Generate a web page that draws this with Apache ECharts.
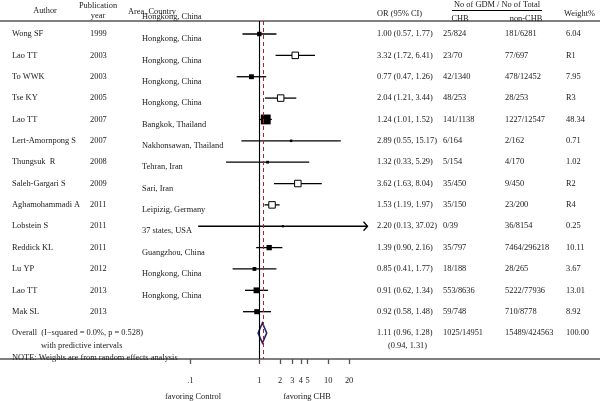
<!DOCTYPE html>
<html><head><meta charset="utf-8">
<script src="https://cdn.jsdelivr.net/npm/echarts@6/dist/echarts.min.js"></script>
<style>html,body{margin:0;padding:0;background:#fff}#c{width:600px;height:401px}</style>
</head><body><div id="c"></div>
<script>
const authors = ['Wong SF','Lao TT','To WWK','Tse KY','Lao TT','Lert-Amornpong S','Thungsuk  R','Saleh-Gargari S','Aghamohammadi A','Lobstein S','Reddick KL','Lu YP','Lao TT','Mak SL'];
const years = ['1999','2003','2003','2005','2007','2007','2008','2009','2011','2011','2011','2012','2013','2013'];
const areas = ['Hongkong, China','Hongkong, China','Hongkong, China','Hongkong, China','Bangkok, Thailand','Nakhonsawan, Thailand','Tehran, Iran','Sari, Iran','Leipizig, Germany','37 states, USA','Guangzhou, China','Hongkong, China','Hongkong, China',''];
const orValues = [1.00,3.32,0.77,2.04,1.24,2.89,1.32,3.62,1.53,2.20,1.39,0.85,0.91,0.92];
const ciLower = [0.57,1.72,0.47,1.21,1.01,0.55,0.33,1.63,1.19,0.13,0.90,0.41,0.62,0.58];
const ciUpper = [1.77,6.41,1.26,3.44,1.52,15.17,5.29,8.04,1.97,37.02,2.16,1.77,1.34,1.48];
const chbCounts = ['25/824','23/70','42/1340','48/253','141/1138','6/164','5/154','35/450','35/150','0/39','35/797','18/188','553/8636','59/748'];
const nonChbCounts = ['181/6281','77/697','478/12452','28/253','1227/12547','2/162','4/170','9/450','23/200','36/8154','7464/296218','28/265','5222/77936','710/8778'];
const weights = ['6.04','R1','7.95','R3','48.34','0.71','1.02','R2','R4','0.25','10.11','3.67','13.01','8.92'];
const overallOR = 1.11, overallLower = 0.96, overallUpper = 1.28;
const predLower = 0.94, predUpper = 1.31;
const overallChb = '1025/14951', overallNonChb = '15489/424563', overallWeight = '100.00';
const xTicks = [0.1, 1, 2, 3, 4, 5, 10, 20];
const arrowBeyond = 20;

const FONT = '8.4px "Liberation Serif", "DejaVu Serif", serif';
const TXT = '#1a1a1a';
const lg = Math.log10;
const f2 = v => v.toFixed(2);

function txt(x, y, s, align) {
  return {type: 'text', x: x, y: y, style: {text: s, font: FONT, fill: TXT, align: align || 'left', verticalAlign: 'middle'}};
}

const studyData = orValues.map((v, i) => [lg(ciLower[i]), lg(ciUpper[i]), lg(v), i]);

function renderStudy(params, api) {
  const i = api.value(3);
  const y = api.coord([0, i])[1];
  const xl = api.coord([api.value(0), i])[0];
  const xh = api.coord([api.value(1), i])[0];
  const xc = api.coord([api.value(2), i])[0];
  const idx = params.dataIndex;
  const ch = [{type: 'line', shape: {x1: xl, y1: y, x2: xh, y2: y}, style: {stroke: '#000', lineWidth: 1.3}}];
  if (ciUpper[idx] > arrowBeyond) {
    ch.push({type: 'polyline', shape: {points: [[xh - 4, y - 4.5], [xh, y], [xh - 4, y + 4.5]]}, style: {stroke: '#000', fill: null, lineWidth: 1.3}});
  }
  const w = parseFloat(weights[idx]);
  if (isNaN(w)) {
    const s = 6.5;
    ch.push({type: 'rect', shape: {x: xc - s / 2, y: y - s / 2, width: s, height: s}, style: {fill: '#fff', stroke: '#000', lineWidth: 1}});
  } else {
    const s = Math.max(2.2, 1.2 * Math.sqrt(w) + 1.5);
    ch.push({type: 'rect', shape: {x: xc - s / 2, y: y - s / 2, width: s, height: s}, style: {fill: '#000'}});
  }
  ch.push(txt(12, y, authors[idx]));
  ch.push(txt(90, y, years[idx]));
  if (areas[idx]) ch.push(txt(142, y + 5, areas[idx]));
  ch.push(txt(377, y, f2(orValues[idx]) + ' (' + f2(ciLower[idx]) + ', ' + f2(ciUpper[idx]) + ')'));
  ch.push(txt(443, y, chbCounts[idx]));
  ch.push(txt(505, y, nonChbCounts[idx]));
  ch.push(txt(566, y, weights[idx]));
  return {type: 'group', children: ch};
}

function renderOverall(params, api) {
  const i = api.value(3);
  const y = api.coord([0, i])[1];
  const xl = api.coord([api.value(0), i])[0];
  const xh = api.coord([api.value(1), i])[0];
  const xc = api.coord([api.value(2), i])[0];
  const h = 10;
  return {type: 'group', children: [
    {type: 'polygon', shape: {points: [[xl, y], [xc, y - h], [xh, y], [xc, y + h]]}, style: {fill: null, stroke: '#23236e', lineWidth: 1.6}},
    txt(12, y, 'Overall  (I\u2212squared = 0.0%, p = 0.528)'),
    txt(41, y + 12.5, 'with predictive intervals'),
    txt(12, y + 24.5, 'NOTE: Weights are from random effects analysis'),
    txt(377, y, f2(overallOR) + ' (' + f2(overallLower) + ', ' + f2(overallUpper) + ')'),
    txt(388, y + 13, '(' + f2(predLower) + ', ' + f2(predUpper) + ')'),
    txt(443, y, overallChb),
    txt(505, y, overallNonChb),
    txt(566, y, overallWeight)
  ]};
}

const chart = echarts.init(document.getElementById('c'), null, {renderer: 'canvas'});
chart.setOption({
  animation: false,
  backgroundColor: '#fff',
  grid: {left: 0, right: 0, top: 21, bottom: 42, containLabel: false},
  xAxis: {
    type: 'value', min: -259.3 / 69, max: 340.7 / 69,
    splitLine: {show: false},
    axisLine: {show: true, onZero: false, lineStyle: {color: '#555', width: 1.5}},
    axisTick: {show: true, customValues: xTicks.map(lg), length: 5, lineStyle: {color: '#555', width: 1.3}},
    axisLabel: {show: true, customValues: xTicks.map(lg), margin: 18, fontSize: 8.4, fontFamily: '"Liberation Serif", serif', color: TXT,
      formatter: v => { const r = Math.round(Math.pow(10, v) * 10) / 10; return r < 1 ? String(r).replace(/^0/, '') : String(Math.round(r)); }}
  },
  yAxis: {type: 'value', inverse: true, min: -0.609, max: 15.215, show: false},
  graphic: [
    {type: 'line', shape: {x1: 0, y1: 21, x2: 600, y2: 21}, style: {stroke: '#000', lineWidth: 1}},
    {type: 'line', shape: {x1: 452, y1: 10.5, x2: 542, y2: 10.5}, style: {stroke: '#000', lineWidth: 1}},
    txt(45, 11, 'Author', 'center'),
    txt(98, 6, 'Publication', 'center'),
    txt(98, 16, 'year', 'center'),
    txt(128, 12, 'Area, Country'),
    txt(142, 16.5, 'Hongkong, China'),
    txt(377, 13.5, 'OR (95% CI)'),
    txt(497, 5, 'No of GDM / No of Total', 'center'),
    txt(460, 18.5, 'CHB', 'center'),
    txt(526, 18.5, 'non-CHB', 'center'),
    txt(564, 14, 'Weight%'),
    txt(193, 397, 'favoring Control', 'center'),
    txt(307, 397, 'favoring CHB', 'center')
  ],
  series: [
    {
      type: 'custom', name: 'studies', renderItem: renderStudy, data: studyData,
      encode: {x: [0, 1, 2], y: 3}, clip: false, silent: true, z: 3,
      markLine: {
        silent: true, symbol: 'none', label: {show: false}, animation: false,
        data: [
          {xAxis: lg(1), lineStyle: {color: '#000', width: 1.1, type: 'solid'}},
          {xAxis: lg(overallOR), lineStyle: {color: '#b0202a', width: 1, type: [4, 3]}}
        ]
      }
    },
    {
      type: 'custom', name: 'overall', renderItem: renderOverall,
      data: [[lg(overallLower), lg(overallUpper), lg(overallOR), 14]],
      encode: {x: [0, 1, 2], y: 3}, clip: false, silent: true, z: 4
    }
  ]
});
</script></body></html>
